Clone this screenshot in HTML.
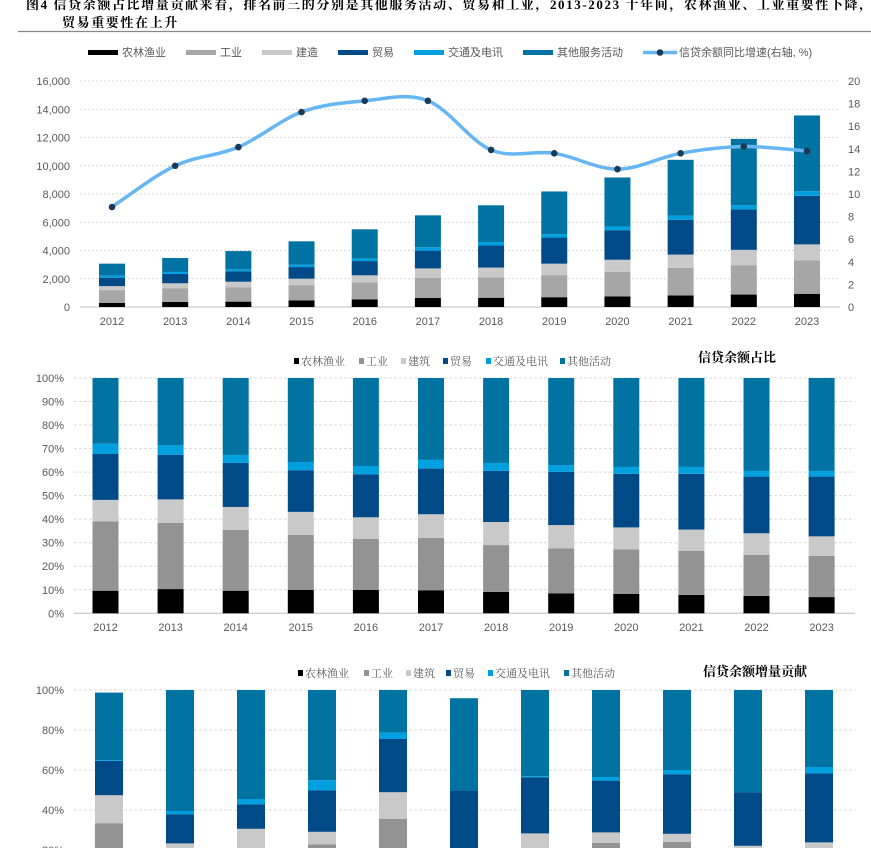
<!DOCTYPE html>
<html><head><meta charset="utf-8"><style>
html,body{margin:0;padding:0;background:#fff;width:871px;height:848px;overflow:hidden;}
body{position:relative;}
svg{position:absolute;left:0;top:0;overflow:hidden;}
.t{font-family:"Liberation Sans","Noto Sans CJK SC",sans-serif;}
.s{font-family:"Liberation Serif","Noto Serif CJK SC",serif;}
</style></head><body>
<svg id="c" width="871" height="848" viewBox="0 0 871 848">
<defs><clipPath id="clipAll"><rect x="0" y="0" width="871" height="848"/></clipPath></defs>
<text class="s" x="26" y="9" font-size="13" font-weight="bold" letter-spacing="1.6" fill="#000">图4  信贷余额占比增量贡献来看，排名前三的分别是其他服务活动、贸易和工业，2013-2023 十年间，农林渔业、工业重要性下降，</text>
<text class="s" x="62" y="27" font-size="13" font-weight="bold" letter-spacing="1.6" fill="#000">贸易重要性在上升</text>
<line x1="18" y1="31.5" x2="871" y2="31.5" stroke="#888" stroke-width="1.2"/>
</svg>
<script>
const years=["2012","2013","2014","2015","2016","2017","2018","2019","2020","2021","2022","2023"];
const seriesNames=["农林渔业","工业","建造","贸易","交通及电讯","其他服务活动"];
const shortNames=["农林渔业","工业","建筑","贸易","交通及电讯","其他活动"];
const colors=["#000000","#939393","#c9c9c9","#004a87","#00a0e0","#0073a2"];
const totals=[3070,3470,3960,4650,5500,6490,7200,8180,9170,10420,11900,13560];
const cumAgri=[9.6,10.3,9.6,9.9,9.9,9.8,9.1,8.5,8.2,7.8,7.4,6.9];
const cumInd=[39.0,38.4,35.4,33.3,31.6,32.0,29.0,27.6,27.1,26.6,24.9,24.4];
const cumCons=[48.2,48.4,45.2,43.1,40.8,42.1,38.8,37.5,36.5,35.6,34.0,32.7];
const cumTrade=[67.7,67.4,63.9,60.8,59.1,61.5,60.5,60.1,59.3,59.3,58.1,58.1];
const cumTrans=[72.1,71.5,67.3,64.3,62.6,65.2,63.9,63.0,62.2,62.2,60.5,60.5];
const cumOther=[100,100,100,100,100,100,100,100,100,100,100,100];
const growth=[8.85,12.5,14.15,17.25,18.25,18.25,13.9,13.6,12.2,13.6,14.2,13.8];
const leftTicks=["0","2,000","4,000","6,000","8,000","10,000","12,000","14,000","16,000"];
const rightTicks=["0","2","4","6","8","10","12","14","16","18","20"];
const pctTicks=["0%","10%","20%","30%","40%","50%","60%","70%","80%","90%","100%"];
const incYears=["2013","2014","2015","2016","2017","2018","2019","2020","2021","2022","2023"];
const incAgri=[5,3,5,4,6,3,4,3,4,3,3];
const incInd=[33.4,12,15,22.8,35.5,10,15,23.5,24,14,16];
const incCons=[47.4,23.3,30.6,29.1,48.9,14,28.3,28.8,28.1,22.1,23.8];
const incTrade=[64.6,37.9,42.8,49.8,75.5,49.8,56.4,54.7,57.9,48.8,58.3];
const incTrans=[65,39.5,45.5,54.9,78.7,49.8,56.9,56.5,60,48.8,61.5];
const incOther=[98.7,100,100,100,100,95.9,100,100,100,100,100];
const incTicks=["0%","20%","40%","60%","80%","100%"];

const svg=document.getElementById('c');
const NS="http://www.w3.org/2000/svg";
function mk(tag,attrs,parent){const e=document.createElementNS(NS,tag);for(const k in attrs)e.setAttribute(k,attrs[k]);(parent||svg).appendChild(e);return e;}
function txt(x,y,s,size,anchor,fill,cls,parent){const e=mk('text',{x:x,y:y,'font-size':size,'text-anchor':anchor,fill:fill,class:cls||'t'},parent);e.textContent=s;return e;}

// ===== TOP CHART =====
const g1=mk('g',{});


const y1=v=>307-v*(226/16000);
const yr=v=>307-v*(226/20);
const x1=i=>112+i*63.18;
leftTicks.forEach((t,i)=>{const v=i*2000;
 const l=mk('line',{x1:80,x2:840,y1:y1(v),y2:y1(v),stroke:i==0?'#bfbfbf':'#d9d9d9','stroke-dasharray':i==0?'':'2,2'},g1);
 
 
 const e=txt(70,y1(v)+4,t,11,'end','#595959','t',g1);
 
 });
rightTicks.forEach((t,i)=>{const e=txt(848,yr(i*2)+4,t,11,'start','#595959','t',g1);
 
 });
const cums=[cumAgri,cumInd,cumCons,cumTrade,cumTrans,cumOther];
const topCols=["#000000","#a6a6a6","#c9c9c9","#004a87","#00a0e0","#0073a2"];
years.forEach((yv,i)=>{let prev=0;
 cums.forEach((arr,k)=>{const a=totals[i]*prev/100,b=totals[i]*arr[i]/100;
  const r=mk('rect',{x:x1(i)-13,y:y1(b),width:26,height:Math.max(0,y1(a)-y1(b)),fill:topCols[k]},g1);
  
  
  prev=arr[i];});
 const e=txt(x1(i),325,yv,11,'middle','#595959','t',g1);
 
 });
const pts=growth.map((v,i)=>[x1(i),yr(v)]);
let d='M'+pts[0][0]+','+pts[0][1];
for(let i=0;i<pts.length-1;i++){const p0=pts[Math.max(0,i-1)],p1=pts[i],p2=pts[i+1],p3=pts[Math.min(pts.length-1,i+2)];
 const c1=[p1[0]+(p2[0]-p0[0])/6,p1[1]+(p2[1]-p0[1])/6],c2=[p2[0]-(p3[0]-p1[0])/6,p2[1]-(p3[1]-p1[1])/6];
 d+=` C${c1[0]},${c1[1]} ${c2[0]},${c2[1]} ${p2[0]},${p2[1]}`;}
const ln=mk('path',{d:d,fill:'none',stroke:'#66b6f4','stroke-width':3.5},g1);


pts.forEach(p=>{const c=mk('circle',{cx:p[0],cy:p[1],r:3.3,fill:'#1d3a55'},g1);
 
 });
const legX=[88,186,262,338,414,523];
seriesNames.forEach((n,k)=>{const r=mk('rect',{x:legX[k],y:50,width:30,height:5,fill:topCols[k]},g1);
 
 
 const e=txt(legX[k]+34,56,n,11,'start','#595959','t',g1);
 
 });
{const l=mk('line',{x1:643,x2:677,y1:52.5,y2:52.5,stroke:'#66b6f4','stroke-width':3.5},g1);
 
 
 const c=mk('circle',{cx:660,cy:52.5,r:3.3,fill:'#1d3a55'},g1);
 
 
 const e=txt(679,56,'信贷余额同比增速(右轴, %)',11,'start','#595959','t',g1);
 
 }

// ===== MIDDLE CHART =====
const g2=mk('g',{});


const y2=v=>613.3-v*2.353;
const x2=i=>105.5+i*65.1;
pctTicks.forEach((t,i)=>{const v=i*10;
 const l=mk('line',{x1:74,x2:855,y1:y2(v),y2:y2(v),stroke:i==0?'#bfbfbf':'#d9d9d9','stroke-dasharray':i==0?'':'3,2'},g2);
 
 
 const e=txt(64,y2(v)+4,t,11,'end','#595959','t',g2);
 
 });
years.forEach((yv,i)=>{let prev=0;
 cums.forEach((arr,k)=>{const r=mk('rect',{x:x2(i)-13,y:y2(arr[i]),width:26,height:Math.max(0,y2(prev)-y2(arr[i])),fill:colors[k]},g2);
  
  
  prev=arr[i];});
 const e=txt(x2(i),631,yv,11,'middle','#595959','t',g2);
 
 });
const legX2=[294,359,401,443,486,560];
shortNames.forEach((n,k)=>{const r=mk('rect',{x:legX2[k],y:358,width:5,height:6,fill:colors[k]},g2);
 
 
 const e=txt(legX2[k]+7,365,n,11,'start','#595959','s',g2);
 
 });
{const e=txt(698,362,'信贷余额占比',13,'start','#000','s',g2);e.setAttribute('font-weight','bold');
 
 }

// ===== BOTTOM CHART =====
const g3=mk('g',{'clip-path':'url(#clipAll)'});


const y3=v=>890-v*2.0;
const x3=i=>109+i*71;
const clampY=y=>Math.min(848,y);
incTicks.forEach((t,i)=>{const v=i*20;
 if(y3(v)>852) return;
 const l=mk('line',{x1:74,x2:855,y1:y3(v),y2:y3(v),stroke:'#d9d9d9','stroke-dasharray':'3,2'},g3);
 
 
 const e=txt(64,y3(v)+4,t,11,'end','#595959','t',g3);
 
 });
const incs=[incAgri,incInd,incCons,incTrade,incTrans,incOther];
incYears.forEach((yv,i)=>{let prev=0;
 incs.forEach((arr,k)=>{const top=clampY(y3(arr[i])),bot=clampY(y3(prev));
  prev=arr[i];
  if(bot-top<=0) return;
  const r=mk('rect',{x:x3(i)-14,y:top,width:28,height:bot-top,fill:colors[k]},g3);
  
  });});
const legX3=[298,364,406,446,488,564];
shortNames.forEach((n,k)=>{const r=mk('rect',{x:legX3[k],y:670,width:5,height:6,fill:colors[k]},g3);
 
 
 const e=txt(legX3[k]+7,677,n,11,'start','#595959','s',g3);
 
 });
{const e=txt(703,676,'信贷余额增量贡献',13,'start','#000','s',g3);e.setAttribute('font-weight','bold');
 
 }
</script>
</body></html>
